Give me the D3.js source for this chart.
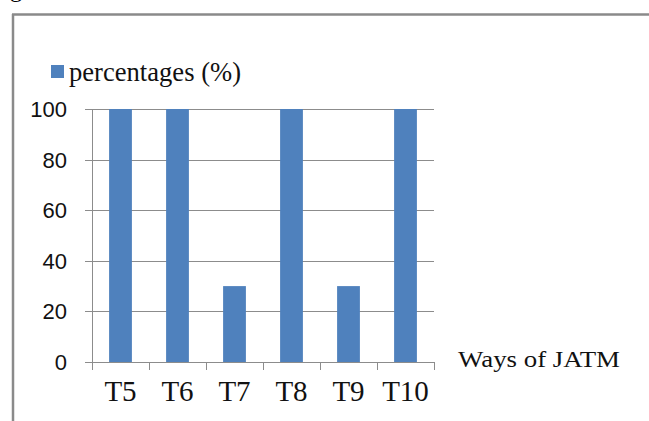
<!DOCTYPE html>
<html lang="en">
<head>
  <meta charset="UTF-8" />
  <title>Ways of JATM</title>
  <style>
    body { margin: 0; padding: 0; background: #fff; }
    svg { display: block; }
  </style>
</head>
<body>
  <svg id="chart"></svg>
  <script src="https://d3js.org/d3.v7.min.js"></script>
  <script>
    const categories = ["T5", "T6", "T7", "T8", "T9", "T10"];
    const percentages = [100, 100, 30, 100, 30, 100];
    const yTicks = [0, 20, 40, 60, 80, 100];
    const seriesName = "percentages (%)";
    const axisTitle = "Ways of JATM";

    const W = 649, H = 421;
    const svg = d3.select("#chart").attr("width", W).attr("height", H);

    // frame of the figure (top and left edges visible)
    svg.append("line").attr("x1", 12).attr("x2", W).attr("y1", 14.5).attr("y2", 14.5)
      .attr("stroke", "#8a8a8a").attr("stroke-width", 2.5);
    svg.append("line").attr("x1", 13).attr("x2", 13).attr("y1", 14).attr("y2", H)
      .attr("stroke", "#8a8a8a").attr("stroke-width", 2.5);

    // caption letter cut by the top edge, as in the source
    svg.append("text").attr("x", 10).attr("y", -3)
      .attr("font-family", "Liberation Serif, serif").attr("font-size", 24)
      .text("g");

    const plotL = 92, plotR = 434, plotT = 109, plotB = 362;

    const x = d3.scaleBand().domain(categories).range([plotL, plotR]).paddingInner(0.6).paddingOuter(0.3);
    const y = d3.scaleLinear().domain([0, 100]).range([plotB, plotT]);
    const band = (plotR - plotL) / categories.length;

    // gridlines
    svg.append("g").selectAll("line").data(yTicks).join("line")
      .attr("x1", plotL - 7).attr("x2", plotR)
      .attr("y1", d => Math.round(y(d)) + 0.5).attr("y2", d => Math.round(y(d)) + 0.5)
      .attr("stroke", "#8c8c8c").attr("stroke-width", 1);

    // y axis line
    svg.append("line").attr("x1", plotL + 0.5).attr("x2", plotL + 0.5)
      .attr("y1", plotT).attr("y2", plotB + 8)
      .attr("stroke", "#8c8c8c");

    // x category ticks
    svg.append("g").selectAll("line").data(d3.range(categories.length + 1)).join("line")
      .attr("x1", i => Math.round(plotL + i * band) + 0.5).attr("x2", i => Math.round(plotL + i * band) + 0.5)
      .attr("y1", plotB).attr("y2", plotB + 8)
      .attr("stroke", "#8c8c8c");

    // bars
    svg.append("g").selectAll("rect").data(categories).join("rect")
      .attr("x", d => x(d))
      .attr("width", x.bandwidth())
      .attr("y", (d, i) => y(percentages[i]))
      .attr("height", (d, i) => y(0) - y(percentages[i]))
      .attr("fill", "#4f81bd");

    // y labels
    svg.append("g").selectAll("text").data(yTicks).join("text")
      .attr("x", 67).attr("y", d => y(d) + 8)
      .attr("text-anchor", "end")
      .attr("font-family", "Liberation Sans, Arial, sans-serif")
      .attr("font-size", 22)
      .attr("fill", "#111")
      .text(d => d);

    // x labels
    svg.append("g").selectAll("text").data(categories).join("text")
      .attr("x", d => x(d) + x.bandwidth() / 2).attr("y", 401)
      .attr("text-anchor", "middle")
      .attr("font-family", "Liberation Serif, Times New Roman, serif")
      .attr("font-size", 29)
      .attr("fill", "#111")
      .text(d => d);

    // axis title
    svg.append("text").attr("x", 458).attr("y", 367)
      .attr("font-family", "Liberation Serif, Times New Roman, serif")
      .attr("font-size", 24)
      .attr("textLength", 162).attr("lengthAdjust", "spacingAndGlyphs")
      .attr("fill", "#111")
      .text(axisTitle);

    // legend
    svg.append("rect").attr("x", 51).attr("y", 65).attr("width", 13).attr("height", 13)
      .attr("fill", "#4f81bd");
    svg.append("text").attr("x", 69).attr("y", 81)
      .attr("font-family", "Liberation Serif, Times New Roman, serif")
      .attr("font-size", 28)
      .attr("textLength", 172).attr("lengthAdjust", "spacingAndGlyphs")
      .attr("fill", "#111")
      .text(seriesName);
  </script>
</body>
</html>
